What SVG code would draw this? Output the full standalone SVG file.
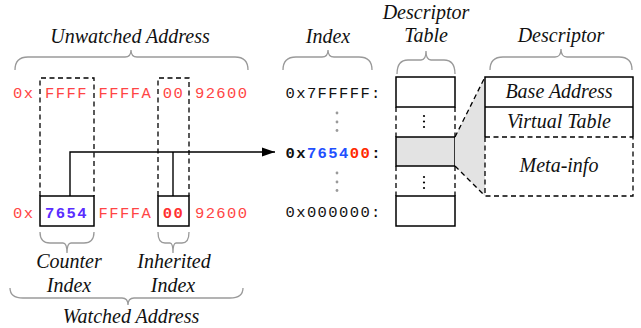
<svg xmlns="http://www.w3.org/2000/svg" width="641" height="328" viewBox="0 0 641 328">
  <defs>
    <style>
      .mono { font-family: "Liberation Mono", "DejaVu Sans Mono", monospace; font-size: 15.5px; letter-spacing: 1.4px; }
      .lbl { font-family: "Liberation Serif", "Times New Roman", serif; font-style: italic; font-size: 20px; fill: #111; text-anchor: middle; }
      .red { fill: #ff4545; }
      .brace { fill: none; stroke: #9a9a9a; stroke-width: 1.3; }
      .solid { fill: none; stroke: #000; stroke-width: 1.5; }
      .dash { fill: none; stroke: #000; stroke-width: 1.3; stroke-dasharray: 5 3.5; }
      .wire { fill: none; stroke: #000; stroke-width: 1.4; }
      .gdot { fill: #9a9a9a; }
      .bdot { fill: #000; }
    </style>
    <marker id="arrow" markerUnits="userSpaceOnUse" markerWidth="14" markerHeight="10" refX="13" refY="5" orient="auto">
      <path d="M0,0.5 L13,5 L0,9.5 Z" fill="#000"/>
    </marker>
  </defs>

  <rect width="641" height="328" fill="#fff"/>

  <!-- Unwatched address (top row) -->
  <g id="unwatched-address">
    <text class="lbl" x="130" y="43">Unwatched Address</text>
    <path class="brace" d="M15,70 Q15,57 28,57 L125,57 Q131,57 131,50 Q131,57 137,57 L235,57 Q248,57 248,70"/>
    <text class="mono red" x="13" y="98">0x FFFF FFFFA 00 92600</text>
    <!-- dashed field outlines -->
    <path class="dash" d="M40,196 V78 H94 V196"/>
    <path class="dash" d="M158,196 V78 H189 V196"/>
  </g>

  <!-- Watched address (bottom row) -->
  <g id="watched-address">
    <text class="mono" x="13" y="217.5"><tspan class="red">0x </tspan><tspan font-weight="bold" fill="#5a2dff">7654</tspan><tspan class="red"> FFFFA </tspan><tspan font-weight="bold" fill="#ff3030">00</tspan><tspan class="red"> 92600</tspan></text>
    <rect class="solid" x="40" y="196" width="54" height="30"/>
    <rect class="solid" x="158" y="196" width="31" height="30"/>
    <path class="brace" d="M40,232 Q40,243 50,243 L63,243 Q67,243 67,253 Q67,243 71,243 L84,243 Q94,243 94,232"/>
    <path class="brace" d="M158,232 Q158,243 165,243 L170,243 Q173,243 173,253 Q173,243 176,243 L182,243 Q189,243 189,232"/>
    <text class="lbl" x="69" y="268">Counter</text>
    <text class="lbl" x="69" y="292">Index</text>
    <text class="lbl" x="174" y="268">Inherited</text>
    <text class="lbl" x="173" y="292">Index</text>
    <path class="brace" d="M10,288 Q10,298 23,298 L122,298 Q128,298 128,305 Q128,298 134,298 L230,298 Q243,298 243,288"/>
    <text class="lbl" x="131" y="323">Watched Address</text>
  </g>

  <!-- Index column -->
  <g id="index">
    <text class="lbl" x="328" y="43">Index</text>
    <path class="brace" d="M283,70 Q283,57 296,57 L322,57 Q328,57 328,50 Q328,57 334,57 L359,57 Q372,57 372,70"/>
    <text class="mono" x="285.5" y="98" fill="#111">0x7FFFFF:</text>
    <circle class="gdot" cx="337" cy="113" r="1.4"/>
    <circle class="gdot" cx="337" cy="122" r="1.4"/>
    <circle class="gdot" cx="337" cy="130.5" r="1.4"/>
    <text class="mono" x="285.5" y="158" font-weight="bold" fill="#111">0x<tspan fill="#1f50ff">7654</tspan><tspan fill="#ff2a00">00</tspan>:</text>
    <circle class="gdot" cx="337" cy="173" r="1.4"/>
    <circle class="gdot" cx="337" cy="182" r="1.4"/>
    <circle class="gdot" cx="337" cy="190.5" r="1.4"/>
    <text class="mono" x="285.5" y="217" fill="#111">0x000000:</text>
  </g>

  <!-- Descriptor table -->
  <g id="descriptor-table">
    <text class="lbl" x="426" y="19">Descriptor</text>
    <text class="lbl" x="426" y="42">Table</text>
    <path class="brace" d="M397,74 Q397,60 408,60 L421,60 Q426,60 426,51 Q426,60 431,60 L444,60 Q455,60 455,74"/>
    <rect class="solid" x="396" y="77" width="59" height="30"/>
    <path class="dash" d="M396,107 V137 M455,107 V137"/>
    <circle class="bdot" cx="424" cy="116" r="1.1"/>
    <circle class="bdot" cx="424" cy="121.5" r="1.1"/>
    <circle class="bdot" cx="424" cy="127" r="1.1"/>
    <rect x="396" y="137" width="59" height="29" fill="#e3e3e3" stroke="#000" stroke-width="1.5"/>
    <path class="dash" d="M396,166 V196 M455,166 V196"/>
    <circle class="bdot" cx="424" cy="177" r="1.1"/>
    <circle class="bdot" cx="424" cy="182.5" r="1.1"/>
    <circle class="bdot" cx="424" cy="188" r="1.1"/>
    <rect class="solid" x="396" y="196" width="59" height="30"/>
  </g>

  <!-- Zoom-out wedge from the selected entry -->
  <g id="zoom-wedge">
    <polygon points="455,137 485,77 485,196 455,166" fill="#e3e3e3"/>
    <path class="dash" d="M455,137 L485,77 M455,166 L485,196"/>
  </g>

  <!-- Descriptor -->
  <g id="descriptor">
    <text class="lbl" x="561" y="42">Descriptor</text>
    <path class="brace" d="M490,70 Q490,57 503,57 L555,57 Q561,57 561,49 Q561,57 567,57 L619,57 Q632,57 632,70"/>
    <rect x="485" y="77" width="148" height="119" fill="#fff"/>
    <path class="solid" d="M485,137 V77 H633 V137 M485,107 H633"/>
    <path class="dash" d="M485,137 V196 H633 V137 M485,137 H633"/>
    <text class="lbl" x="559" y="98">Base Address</text>
    <text class="lbl" x="559" y="128">Virtual Table</text>
    <text class="lbl" x="559" y="172">Meta-info</text>
  </g>

  <!-- Connectors -->
  <g id="connectors">
    <path class="wire" d="M70,196 V152 H275" marker-end="url(#arrow)"/>
    <path class="wire" d="M173,196 V152"/>
  </g>
</svg>
